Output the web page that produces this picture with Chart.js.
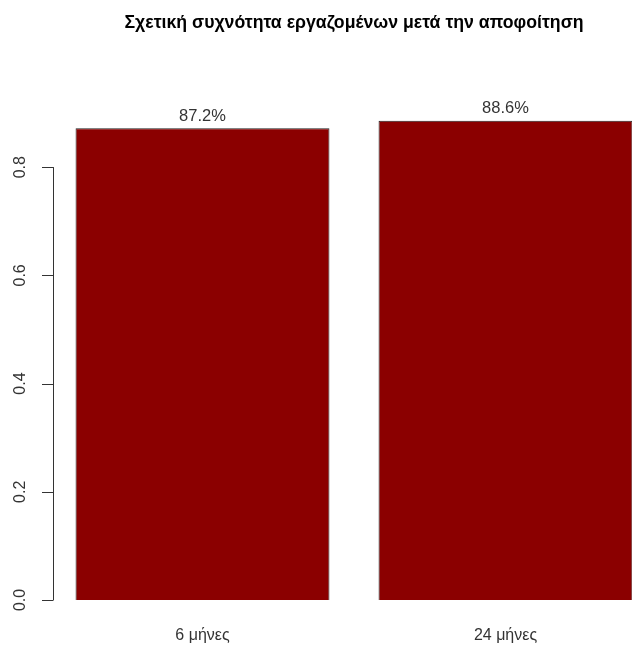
<!DOCTYPE html>
<html>
<head>
<meta charset="utf-8">
<script src="https://cdn.jsdelivr.net/npm/chart.js@4"></script>
<style>
    body { margin: 0; background: #fff; }
    #wrap { width: 632px; height: 645px; overflow: hidden; }
</style>
</head>
<body>
<div id="wrap"><canvas id="chart" width="660" height="645"></canvas></div>
<script>
// Data
const categories = ["6 μήνες", "24 μήνες"];
const shares = [0.872, 0.886];
const shareLabels = ["87.2%", "88.6%"];
const yTicks = [0, 0.2, 0.4, 0.6, 0.8];
const yTickLabels = ["0.0", "0.2", "0.4", "0.6", "0.8"];
const title = "Σχετική συχνότητα εργαζομένων μετά την αποφοίτηση";

const FONT = "'Liberation Sans', Arial, sans-serif";

// Title, value labels and an R-style y axis
const extras = {
    id: "extras",
    afterDraw(chart) {
        const ctx = chart.ctx;
        const area = chart.chartArea;
        const y = chart.scales.y;
        ctx.save();

        // title
        ctx.fillStyle = "#000";
        ctx.font = "bold 17.7px " + FONT;
        ctx.textAlign = "center";
        ctx.textBaseline = "middle";
        ctx.fillText(title, 354, 23);

        // values above bars
        ctx.fillStyle = "#333";
        ctx.font = "16.5px " + FONT;
        chart.getDatasetMeta(0).data.forEach((bar, i) => {
            ctx.fillText(shareLabels[i], bar.x, bar.y - 12);
        });

        // y axis
        const ax = area.left + 2;
        ctx.strokeStyle = "#333";
        ctx.lineWidth = 1;
        ctx.beginPath();
        ctx.moveTo(ax + 0.5, y.getPixelForValue(yTicks[0]));
        ctx.lineTo(ax + 0.5, y.getPixelForValue(yTicks[yTicks.length - 1]));
        yTicks.forEach(v => {
            const py = Math.round(y.getPixelForValue(v)) + 0.5;
            ctx.moveTo(ax + 0.5, py);
            ctx.lineTo(ax - 11, py);
        });
        ctx.stroke();

        ctx.font = "16px " + FONT;
        yTicks.forEach((v, i) => {
            ctx.save();
            ctx.translate(21, y.getPixelForValue(v));
            ctx.rotate(-Math.PI / 2);
            ctx.fillText(yTickLabels[i], 0, 0);
            ctx.restore();
        });
        ctx.restore();
    }
};

new Chart(document.getElementById("chart"), {
    type: "bar",
    data: {
        labels: categories,
        datasets: [{
            data: shares,
            backgroundColor: "#8B0000",
            borderColor: "#222",
            borderWidth: 1,
            categoryPercentage: 1,
            barPercentage: 0.838
        }]
    },
    options: {
        responsive: false,
        animation: false,
        devicePixelRatio: 1,
        layout: { padding: { left: 51, right: 3, top: 86, bottom: 0 } },
        plugins: {
            legend: { display: false },
            title: { display: false },
            tooltip: { enabled: false }
        },
        scales: {
            x: {
                grid: { display: false, drawTicks: false },
                border: { display: false },
                ticks: { color: "#333", font: { family: FONT, size: 16 }, padding: 26 },
                afterFit(scale) { scale.height = 45; }
            },
            y: {
                display: false,
                min: 0,
                max: 0.95
            }
        }
    },
    plugins: [extras]
});
</script>
</body>
</html>
